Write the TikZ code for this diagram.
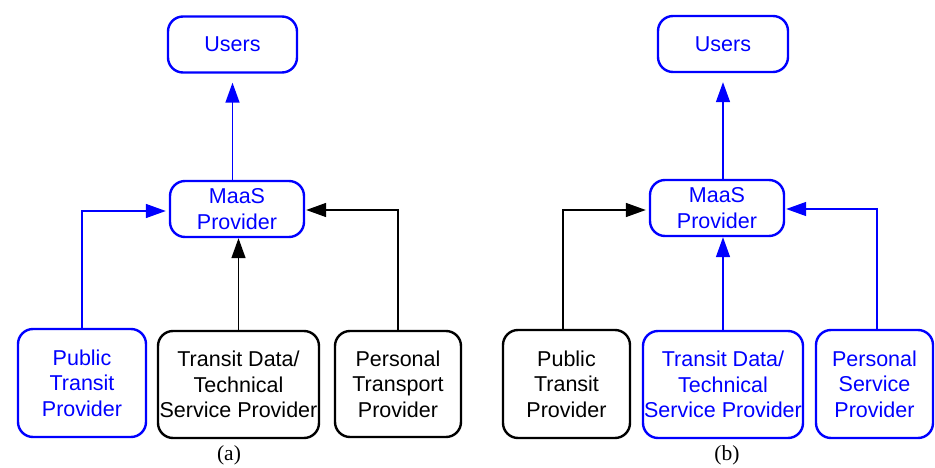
\documentclass[tikz,border=0pt]{standalone}
\usepackage{fontspec}
\setmainfont{Liberation Sans}
\newfontfamily\capfont{Liberation Serif}
\usetikzlibrary{arrows.meta}
\begin{document}
\begin{tikzpicture}[x=1pt,y=-1pt,
  box/.style={draw, line width=2.4pt, rounded corners=15pt, align=center,
    inner sep=0pt, font=\fontsize{21.5}{25.5}\selectfont},
  hl/.style={draw=blue, text=blue},
  link/.style={line width=1.5pt, -{Triangle[length=20pt,width=14pt]}},
  hlink/.style={link, draw=blue},
  caption/.style={font=\capfont\fontsize{21.5}{24}\selectfont}]
\useasboundingbox (0,0) rectangle (935,468);

% ---------- (a) ----------
\node[box, hl, minimum width=129, minimum height=56] (usersA) at (232.5,44.5) {Users};
\node[box, hl, minimum width=134, minimum height=56] (maasA) at (237,209) {MaaS\\Provider};
\node[box, hl, minimum width=128, minimum height=108] (ptA) at (82,383) {Public\\Transit\\Provider};
\node[box, minimum width=161, minimum height=107] (tdA) at (238.5,384.5) {Transit Data/\\Technical\\Service Provider};
\node[box, minimum width=126, minimum height=106] (perA) at (398,384) {Personal\\Transport\\Provider};
\node[caption] (capA) at (229,455) {(a)};

\draw[hlink, shorten >=9pt] (usersA.south |- maasA.north) -- (usersA.south);
\draw[hlink, shorten >=3pt] (ptA.north) |- ([yshift=-2pt]maasA.west);
\draw[link] (tdA.north) -- (tdA.north |- maasA.south);
\draw[link, shorten >=1pt] (perA.north) |- ([yshift=-1pt]maasA.east);

% ---------- (b) ----------
\node[box, hl, minimum width=130, minimum height=56] (usersB) at (723,44) {Users};
\node[box, hl, minimum width=134, minimum height=56] (maasB) at (717,208) {MaaS\\Provider};
\node[box, minimum width=127, minimum height=108] (ptB) at (566.5,384) {Public\\Transit\\Provider};
\node[box, hl, minimum width=160, minimum height=107] (tdB) at (723,384.5) {Transit Data/\\Technical\\Service Provider};
\node[box, hl, minimum width=117, minimum height=108] (psB) at (874.5,384) {Personal\\Service\\Provider};
\node[caption] (capB) at (727,455) {(b)};

\draw[hlink, shorten >=9pt] (usersB.south |- maasB.north) -- (usersB.south);
\draw[link, shorten >=3pt] (ptB.north -| 563,0) |- ([yshift=-2pt]maasB.west);
\draw[hlink] (tdB.north) -- (tdB.north |- maasB.south);
\draw[hlink, shorten >=1pt] (psB.north -| 877,0) |- ([yshift=-1pt]maasB.east);
\end{tikzpicture}
\end{document}
